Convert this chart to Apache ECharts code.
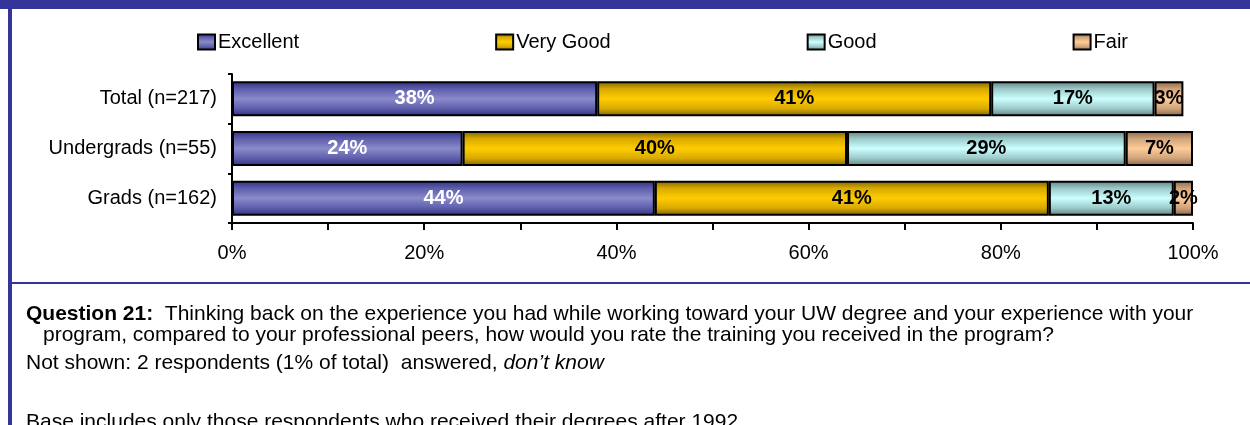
<!DOCTYPE html>
<html>
<head>
<meta charset="utf-8">
<script src="https://cdn.jsdelivr.net/npm/echarts@6/dist/echarts.min.js"></script>
<style>
  html, body { margin: 0; padding: 0; background: #fff; }
  #chart { width: 1250px; height: 425px; }
</style>
</head>
<body>
<div id="chart"></div>
<script>
var categories = ['Total (n=217)', 'Undergrads (n=55)', 'Grads (n=162)'];
var excellent = [38, 24, 44];
var veryGood = [41, 40, 41];
var good = [17, 29, 13];
var fair = [3, 7, 2];
var seriesNames = ['Excellent', 'Very Good', 'Good', 'Fair'];

var questionLabel = 'Question 21:';
var questionLine1 = '  Thinking back on the experience you had while working toward your UW degree and your experience with your';
var questionLine2 = 'program, compared to your professional peers, how would you rate the training you received in the program?';
var notShown = 'Not shown: 2 respondents (1% of total)  answered, ';
var notShownItalic = 'don\u2019t know';
var baseNote = 'Base includes only those respondents who received their degrees after 1992.';

var FONT = '"Liberation Sans", Arial, sans-serif';
var BLUE = '#353599';

function stripes(edge, mid, inner) {
  return new echarts.graphic.LinearGradient(0, 0, 0, 1, [
    { offset: 0, color: edge },
    { offset: 0.22, color: inner },
    { offset: 0.5, color: mid },
    { offset: 0.78, color: inner },
    { offset: 1, color: edge }
  ]);
}

var fills = [
  stripes('#2f2f84', '#8a8acb', '#5e5eac'),
  stripes('#7c6200', '#ffcc00', '#d9aa00'),
  stripes('#5e7f7f', '#ccffff', '#9cc9c9'),
  stripes('#876549', '#ffcc99', '#cfa37a')
];
var labelColors = ['#fff', '#000', '#000', '#000'];
var values = [excellent, veryGood, good, fair];

var chart = echarts.init(document.getElementById('chart'));

var series = seriesNames.map(function (name, i) {
  return {
    name: name,
    type: 'bar',
    stack: 'total',
    barWidth: 35,
    data: values[i],
    itemStyle: { color: fills[i], borderColor: '#000', borderWidth: 2 },
    label: {
      show: true,
      position: 'inside',
      formatter: '{c}%',
      color: labelColors[i],
      fontWeight: 'bold',
      fontSize: 20,
      fontFamily: FONT
    }
  };
});

var option = {
  backgroundColor: '#fff',
  animation: false,
  legend: {
    left: 197,
    top: 32,
    padding: 0,
    itemWidth: 17,
    itemHeight: 15,
    itemGap: 196,
    icon: 'rect',
    data: seriesNames,
    itemStyle: { borderColor: '#000', borderWidth: 2 },
    textStyle: { fontSize: 20, color: '#000', fontFamily: FONT, padding: [0, 0, 0, -2] }
  },
  grid: { left: 232, right: 57, top: 74, bottom: 202, containLabel: false },
  xAxis: {
    type: 'value',
    min: 0,
    max: 100,
    interval: 10,
    splitLine: { show: false },
    axisLine: { show: true, lineStyle: { color: '#000', width: 2 } },
    axisTick: { show: true, length: 7, lineStyle: { color: '#000', width: 2 } },
    axisLabel: {
      margin: 20,
      fontSize: 20,
      color: '#000',
      fontFamily: FONT,
      formatter: function (v) { return v % 20 === 0 ? v + '%' : ''; }
    }
  },
  yAxis: {
    type: 'category',
    inverse: true,
    data: categories,
    axisLine: { show: true, lineStyle: { color: '#000', width: 2 } },
    axisTick: { show: true, length: 4, lineStyle: { color: '#000', width: 2 } },
    axisLabel: { margin: 15, fontSize: 20, color: '#000', fontFamily: FONT }
  },
  series: series,
  graphic: [
    { type: 'rect', shape: { x: 0, y: 0, width: 1250, height: 9 }, style: { fill: BLUE }, silent: true },
    { type: 'rect', shape: { x: 8, y: 0, width: 4, height: 425 }, style: { fill: BLUE }, silent: true },
    { type: 'rect', shape: { x: 8, y: 282, width: 1242, height: 2 }, style: { fill: BLUE }, silent: true },
    {
      type: 'text', left: 26, top: 304,
      style: {
        text: '{b|' + questionLabel + '}' + questionLine1,
        font: '21px ' + FONT, fill: '#000',
        rich: { b: { fontWeight: 'bold', fontSize: 21, fontFamily: FONT, fill: '#000' } }
      }
    },
    {
      type: 'text', left: 43, top: 325,
      style: { text: questionLine2, font: '21px ' + FONT, fill: '#000' }
    },
    {
      type: 'text', left: 26, top: 353,
      style: {
        text: notShown + '{i|' + notShownItalic + '}',
        font: '21px ' + FONT, fill: '#000',
        rich: { i: { fontStyle: 'italic', fontSize: 21, fontFamily: FONT, fill: '#000' } }
      }
    },
    {
      type: 'text', left: 26, top: 412,
      style: { text: baseNote, font: '21px ' + FONT, fill: '#000' }
    }
  ]
};

chart.setOption(option);
</script>
</body>
</html>
